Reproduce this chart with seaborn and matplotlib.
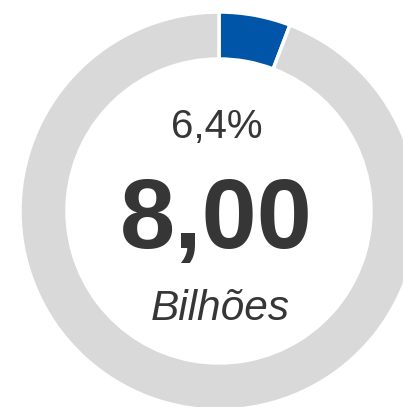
import matplotlib
matplotlib.use("Agg")
import matplotlib.pyplot as plt
import seaborn as sns

# dados do gráfico
categorias = ['Parcela', 'Restante']
valores = [5.8, 94.2]
cores = ['#0055A9', '#D9D9D9']
percentual = '6,4%'
valor_total = '8,00'
unidade = 'Bilhões'

sns.set_theme(style="white")
plt.rcParams['font.family'] = ['Liberation Sans', 'DejaVu Sans']

W, H = 403, 407
fig = plt.figure(figsize=(W / 100, H / 100), dpi=100)
ax = fig.add_axes([0, 0, 1, 1])

cx, cy, r = 219, 211, 199
ax.pie(valores, colors=cores, startangle=-90, counterclock=True,
       center=(cx, cy), radius=r, frame=True,
       wedgeprops=dict(width=47, edgecolor='white', linewidth=2.5))
ax.set_xlim(0, W)
ax.set_ylim(H, 0)
ax.set_aspect('equal')
ax.axis('off')

cor_texto = '#363636'
ax.text(217, 138, percentual, ha='center', va='baseline', fontsize=29, color=cor_texto)
ax.text(216, 248, valor_total, ha='center', va='baseline', fontsize=71.5,
        fontweight='bold', color=cor_texto)
ax.text(220, 320, unidade, ha='center', va='baseline', fontsize=30.5,
        fontstyle='italic', color=cor_texto)

fig.savefig('out.png', dpi=100)
